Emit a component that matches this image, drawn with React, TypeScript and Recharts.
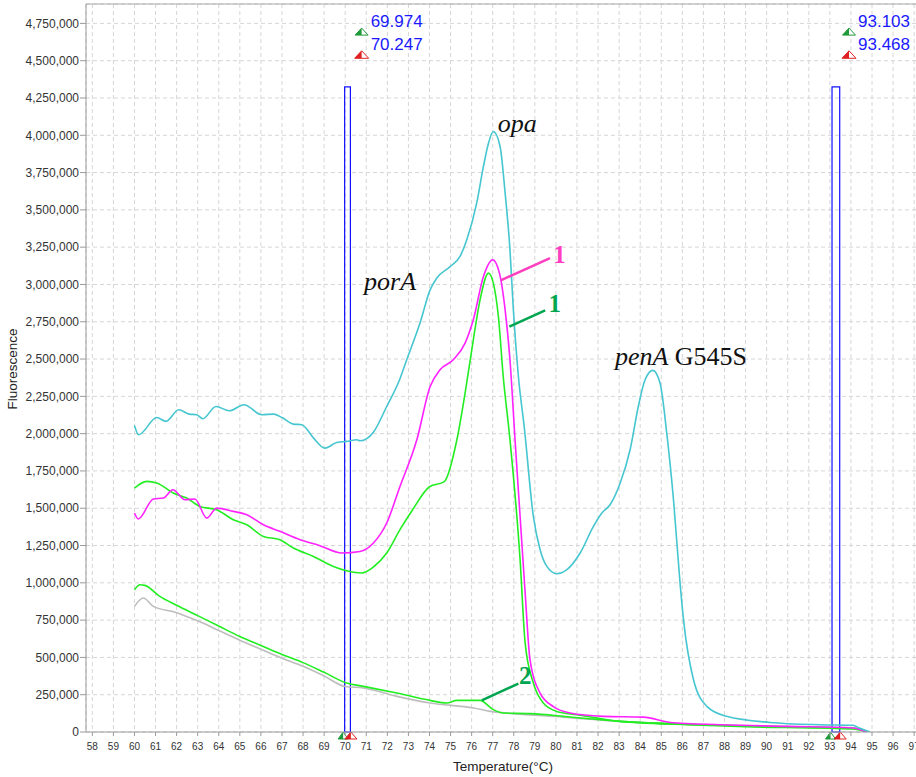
import React from 'react';
import {
  LineChart,
  Line,
  XAxis,
  YAxis,
  CartesianGrid,
  ReferenceArea,
  ReferenceLine,
  ReferenceDot,
} from 'recharts';

type Pt = [number, number];

// temperature (°C), fluorescence
const opaSample: Pt[] = [
  [60.0, 2055000], [60.2, 1993000], [61.06, 2108000], [61.5, 2082000], [62.1, 2160000],
  [62.6, 2131000], [62.95, 2127000], [63.24, 2100000], [63.87, 2182000], [64.5, 2153000],
  [65.2, 2194000], [66.04, 2127000], [66.6, 2131000], [67.0, 2108000], [67.54, 2064000],
  [67.94, 2060000], [68.5, 1970000], [69.04, 1903000], [69.6, 1941000], [70.07, 1948000],
  [70.55, 1959000], [70.7, 1952000], [71.34, 2010000], [71.97, 2182000], [72.6, 2368000],
  [72.92, 2495000], [73.55, 2741000], [74.03, 2964000], [74.35, 3043000], [74.98, 3120000],
  [75.45, 3188000], [75.77, 3299000], [76.24, 3545000], [76.56, 3791000], [76.8, 3947000],
  [77.03, 4025000], [77.35, 3925000], [77.59, 3612000], [77.82, 3232000], [77.98, 2830000],
  [78.22, 2383000], [78.5, 2040000], [78.93, 1445000], [79.25, 1222000], [79.57, 1110000],
  [80.04, 1061000], [80.52, 1088000], [81.15, 1200000], [81.78, 1378000], [82.18, 1468000],
  [82.57, 1523000], [83.05, 1669000], [83.52, 1892000], [83.91, 2182000], [84.23, 2361000],
  [84.6, 2424000], [84.94, 2339000], [85.26, 2004000], [85.58, 1557000], [85.89, 1000000],
  [86.05, 760000], [86.53, 350000], [87.16, 172000], [88.1, 105000], [90.16, 64000],
  [92.5, 49000], [94.1, 45000], [94.4, 27000], [94.9, 0],
];

const sample1Pink: Pt[] = [
  [60.0, 1468000], [60.18, 1428000], [60.9, 1562000], [61.37, 1568000], [61.82, 1624000],
  [62.4, 1557000], [62.87, 1562000], [63.43, 1434000], [63.9, 1501000], [64.69, 1479000],
  [65.33, 1456000], [66.12, 1389000], [66.9, 1345000], [67.86, 1289000], [68.8, 1249000],
  [69.84, 1200000], [70.7, 1210000], [71.34, 1267000], [71.97, 1401000], [72.6, 1646000],
  [73.4, 1959000], [74.03, 2316000], [74.5, 2428000], [75.13, 2495000], [75.69, 2607000],
  [76.08, 2763000], [76.56, 3053000], [77.0, 3165000], [77.32, 3076000], [77.59, 2830000],
  [77.82, 2495000], [78.06, 1959000], [78.54, 932000], [78.77, 485000], [79.25, 261000],
  [79.88, 170000], [80.67, 127000], [82.25, 105000], [84.15, 100000], [85.42, 64000],
  [87.79, 49000], [90.96, 38000], [94.1, 27000], [94.75, 0],
];

const sample1Green: Pt[] = [
  [60.0, 1635000], [60.58, 1680000], [61.06, 1669000], [61.84, 1602000], [62.48, 1568000],
  [63.1, 1512000], [63.9, 1490000], [64.69, 1423000], [65.33, 1389000], [66.12, 1311000],
  [66.9, 1289000], [67.54, 1233000], [68.49, 1177000], [69.44, 1110000], [70.07, 1081000],
  [70.79, 1066000], [71.34, 1106000], [71.97, 1200000], [72.6, 1356000], [73.2, 1490000],
  [74.0, 1644000], [74.7, 1678000], [75.3, 1959000], [75.69, 2272000], [76.08, 2629000],
  [76.4, 2897000], [76.8, 3076000], [77.03, 3009000], [77.27, 2785000], [77.5, 2383000],
  [77.82, 1959000], [78.3, 1155000], [78.54, 596000], [78.93, 328000], [79.4, 194000],
  [80.04, 138000], [80.99, 116000], [83.05, 71000], [86.2, 49000], [89.37, 34000],
  [92.5, 27000], [94.1, 20000], [94.75, 0],
];

const sample2Green: Pt[] = [
  [60.0, 954000], [60.26, 987000], [60.5, 983000], [61.2, 909000], [62.0, 850000],
  [63.0, 780000], [64.0, 710000], [65.0, 640000], [66.0, 580000], [67.0, 520000],
  [68.0, 465000], [69.0, 400000], [70.07, 328000], [70.86, 306000], [72.45, 261000],
  [74.03, 212000], [74.82, 194000], [75.3, 212000], [76.4, 212000], [77.03, 150000],
  [77.5, 127000], [78.77, 123000], [80.35, 105000], [81.15, 94000], [83.05, 71000],
  [86.8, 49000], [90.5, 36000], [94.4, 22000], [94.8, 0],
];

const negativeGray: Pt[] = [
  [60.0, 842000], [60.42, 898000], [60.9, 842000], [62.0, 800000], [63.0, 745000],
  [64.0, 680000], [65.0, 615000], [66.0, 555000], [67.0, 495000], [68.0, 440000],
  [69.0, 375000], [70.0, 305000], [70.86, 295000], [72.45, 239000], [74.03, 194000],
  [76.1, 161000], [76.9, 138000], [77.98, 123000], [80.35, 100000], [83.0, 71000],
  [87.0, 49000], [91.0, 36000], [94.4, 22000], [94.8, 0],
];

const xTicks = [58, 59, 60, 61, 62, 63, 64, 65, 66, 67, 68, 69, 70, 71, 72, 73, 74, 75, 76, 77,
  78, 79, 80, 81, 82, 83, 84, 85, 86, 87, 88, 89, 90, 91, 92, 93, 94, 95, 96, 97];
const yTicks = [0, 250000, 500000, 750000, 1000000, 1250000, 1500000, 1750000, 2000000, 2250000,
  2500000, 2750000, 3000000, 3250000, 3500000, 3750000, 4000000, 4250000, 4500000, 4750000];

const cursorLeft = [69.974, 70.247];
const cursorRight = [93.103, 93.468];
const cursorTop = 4325000;

const X_DOMAIN: [number, number] = [57.7, 97.61];
const Y_MAX = 4880000;

const rows = (pts: Pt[]) => pts.map(([t, f]) => ({ t, f }));

const SANS = '"Liberation Sans", Arial, sans-serif';
const SERIF = '"Liberation Serif", "Times New Roman", serif';
const BLUE = '#1a1aff';

const Tri = ({ cx, baseY, w, h, color }: any) => (
  <g>
    <polygon
      points={`${cx - w / 2},${baseY} ${cx},${baseY - h} ${cx + w / 2},${baseY}`}
      fill="#fff"
      stroke={color}
      strokeWidth={1}
    />
    <polygon
      points={`${cx - w / 2},${baseY} ${cx},${baseY - h} ${cx},${baseY}`}
      fill={color}
    />
  </g>
);

const cursorMarks = (a: number, b: number) => (props: any) => {
  const { x, y, width, height } = props.viewBox;
  const mx = x + 17;
  const bottom = y + height;
  return (
    <g>
      <Tri cx={mx} baseY={y - 51.7} w={13} h={7} color="#1f9a3a" />
      <Tri cx={mx} baseY={y - 28.5} w={14} h={7.5} color="#e02020" />
      <text x={x + 26} y={y - 59.5} fill={BLUE} fontFamily={SANS} fontSize={17}>
        {a.toFixed(3)}
      </text>
      <text x={x + 26} y={y - 36.3} fill={BLUE} fontFamily={SANS} fontSize={17}>
        {b.toFixed(3)}
      </text>
      {/* small markers sitting on the temperature axis */}
      <Tri cx={x - 1.5} baseY={bottom + 7} w={10} h={7} color="#1f9a3a" />
      <Tri cx={x + width + 0.5} baseY={bottom + 7} w={12} h={7} color="#e02020" />
    </g>
  );
};

const note = (
  content: React.ReactNode,
  color: string,
  anchor: 'start' | 'middle' | 'end',
  size: number,
  bold = false,
  italic = false,
) => (props: any) => {
  const { x, y } = props.viewBox;
  return (
    <text
      x={x}
      y={y}
      fill={color}
      textAnchor={anchor}
      fontFamily={SERIF}
      fontSize={size}
      fontWeight={bold ? 'bold' : 'normal'}
      fontStyle={italic ? 'italic' : 'normal'}
    >
      {content}
    </text>
  );
};

const PINK = '#ff3fbf';
const DARK_GREEN = '#00a550';

export default function App() {
  return (
    <div
      style={{
        position: 'absolute',
        left: 0,
        top: 0,
        width: 916,
        height: 777,
        overflow: 'hidden',
        background: '#fff',
      }}
    >
      <LineChart width={928} height={777} margin={{ top: 4, right: 1, bottom: 5, left: 0 }}>
        <CartesianGrid stroke="#d6d6d6" strokeDasharray="4 3" />
        <XAxis
          dataKey="t"
          type="number"
          domain={X_DOMAIN}
          ticks={xTicks}
          allowDataOverflow
          interval={0}
          height={40}
          tickSize={4}
          tickMargin={7}
          stroke="#9a9a9a"
          tick={{ fill: '#333', fontSize: 10, fontFamily: SANS }}
          label={(p: any) => (
            <text x={503} y={771} textAnchor="middle" fill="#222" fontFamily={SANS} fontSize={13.5}>
              Temperature(°C)
            </text>
          )}
        />
        <YAxis
          type="number"
          domain={[0, Y_MAX]}
          ticks={yTicks}
          allowDataOverflow
          interval={0}
          width={86}
          tickSize={6}
          tickMargin={1}
          stroke="#9a9a9a"
          tick={{ fill: '#333', fontSize: 12, fontFamily: SANS }}
          tickFormatter={(v: number) => v.toLocaleString('en-US')}
          label={(p: any) => (
            <text
              x={0}
              y={0}
              transform="translate(17, 369) rotate(-90)"
              textAnchor="middle"
              fill="#222"
              fontFamily={SANS}
              fontSize={13.5}
            >
              Fluorescence
            </text>
          )}
        />
        <ReferenceLine y={Y_MAX} stroke="#a8a8a8" ifOverflow="visible" />

        <Line data={rows(negativeGray)} dataKey="f" type="monotone" stroke="#bdbdbd" strokeWidth={1.6} dot={false} isAnimationActive={false} />
        <Line data={rows(sample2Green)} dataKey="f" type="monotone" stroke="#22ee22" strokeWidth={1.6} dot={false} isAnimationActive={false} />
        <Line data={rows(sample1Green)} dataKey="f" type="monotone" stroke="#22ee22" strokeWidth={1.6} dot={false} isAnimationActive={false} />
        <Line data={rows(sample1Pink)} dataKey="f" type="monotone" stroke="#ff22ff" strokeWidth={1.6} dot={false} isAnimationActive={false} />
        <Line data={rows(opaSample)} dataKey="f" type="monotone" stroke="#45c6d0" strokeWidth={1.6} dot={false} isAnimationActive={false} />

        <ReferenceArea
          x1={cursorLeft[0]}
          x2={cursorLeft[1]}
          y1={0}
          y2={cursorTop}
          fill="none"
          stroke="#1010ff"
          strokeWidth={1.2}
          fillOpacity={0}
          label={cursorMarks(cursorLeft[0], cursorLeft[1])}
        />
        <ReferenceArea
          x1={cursorRight[0]}
          x2={cursorRight[1]}
          y1={0}
          y2={cursorTop}
          fill="none"
          stroke="#1010ff"
          strokeWidth={1.2}
          fillOpacity={0}
          label={cursorMarks(cursorRight[0], cursorRight[1])}
        />

        {/* leader lines for the sample numbers */}
        <ReferenceLine segment={[{ x: 77.38, y: 3027000 }, { x: 79.72, y: 3177000 }]} stroke={PINK} strokeWidth={2.5} />
        <ReferenceLine segment={[{ x: 77.79, y: 2718000 }, { x: 79.49, y: 2826000 }]} stroke={DARK_GREEN} strokeWidth={2.5} />
        <ReferenceLine segment={[{ x: 76.48, y: 212000 }, { x: 78.22, y: 324000 }]} stroke={DARK_GREEN} strokeWidth={2.5} />

        <ReferenceDot x={78.16} y={4023000} r={0} stroke="none" fill="none" label={note('opa', '#111', 'middle', 26, false, true)} />
        <ReferenceDot x={72.13} y={2964000} r={0} stroke="none" fill="none" label={note('porA', '#111', 'middle', 26, false, true)} />
        <ReferenceDot
          x={82.8}
          y={2462000}
          r={0}
          stroke="none"
          fill="none"
          label={note(
            <>
              <tspan fontStyle="italic">penA</tspan>
              <tspan>{' G545S'}</tspan>
            </>,
            '#111',
            'start',
            26,
          )}
        />
        <ReferenceDot x={80.17} y={3145000} r={0} stroke="none" fill="none" label={note('1', PINK, 'middle', 25, true)} />
        <ReferenceDot x={79.94} y={2817000} r={0} stroke="none" fill="none" label={note('1', DARK_GREEN, 'middle', 25, true)} />
        <ReferenceDot x={78.54} y={319000} r={0} stroke="none" fill="none" label={note('2', DARK_GREEN, 'middle', 25, true)} />
      </LineChart>
    </div>
  );
}
